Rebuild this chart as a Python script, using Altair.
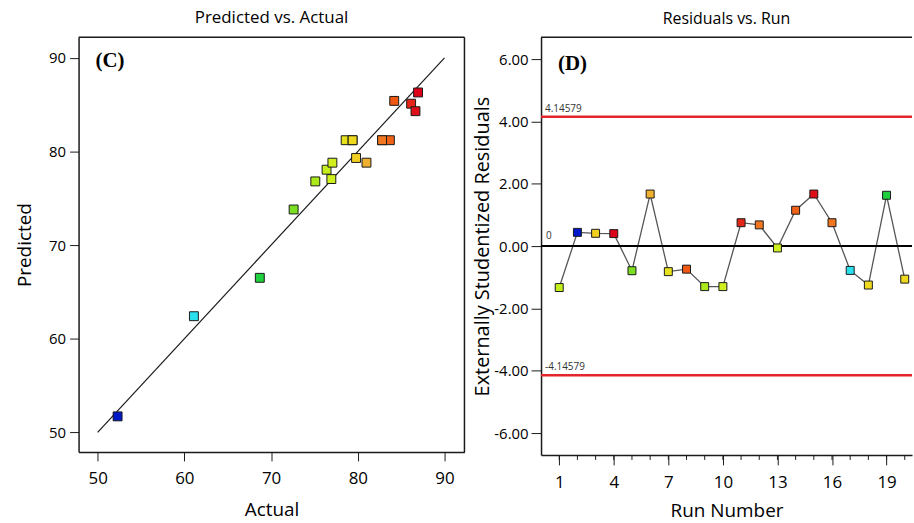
import altair as alt
import pandas as pd

# Design runs: observed response, model prediction, externally studentized residual
runs = list(range(1, 21))
actual = [76.4, 52.3, 79.8, 86.95, 72.6, 81.0, 78.6, 84.2, 75.1, 77.07,
          86.15, 82.8, 76.95, 83.7, 86.65, 82.8, 61.1, 79.4, 68.7, 79.4]
predicted = [78.05, 51.7, 79.3, 86.3, 73.8, 78.8, 81.2, 85.4, 76.8, 78.8,
             85.1, 81.2, 77.05, 81.2, 84.3, 81.2, 62.4, 81.2, 66.5, 81.2]
residuals = [-1.33, 0.44, 0.41, 0.40, -0.79, 1.67, -0.82, -0.74, -1.30, -1.30,
             0.75, 0.68, -0.06, 1.15, 1.67, 0.75, -0.78, -1.25, 1.63, -1.06]

limit_values = [4.14579, -4.14579]
limit_labels = ["4.14579", "-4.14579"]
x_ticks_c = [50, 60, 70, 80, 90]
y_ticks_d = [-6, -4, -2, 0, 2, 4, 6]
x_ticks_d = [1, 4, 7, 10, 13, 16, 19]

# response-value colour ramp (low = blue, high = red)
ramp_domain = [52, 61, 69, 73, 77, 79.5, 81, 83, 84.5, 86.5]
ramp_colors = ["#0000c0", "#30e0f0", "#30d030", "#80e020", "#d0f020",
               "#f0d820", "#f0b030", "#f07020", "#f05010", "#e01818"]

df = pd.DataFrame({"Run": runs, "Actual": actual,
                   "Predicted": predicted, "Residual": residuals})
diag = pd.DataFrame({"Actual": [50, 90], "Predicted": [50, 90]})
limits = pd.DataFrame({"y": limit_values, "label": limit_labels})
zero = pd.DataFrame({"y": [0], "label": ["0"]})

FONT = "Open Sans"
INK = "#1a1a1a"
W1, H1 = 388, 417
W2, H2 = 373, 420

color = alt.Color("Actual:Q", legend=None,
                  scale=alt.Scale(domain=ramp_domain, range=ramp_colors))

# ---------------- (C) Predicted vs. Actual ----------------
xs = alt.Scale(domain=[47.8, 92.3], nice=False, zero=False)
ys = alt.Scale(domain=[47.9, 92.2], nice=False, zero=False)
x_c = alt.X("Actual:Q", scale=xs, title="Actual",
            axis=alt.Axis(values=x_ticks_c, grid=False, tickSize=9,
                          labelFontSize=17, labelPadding=10,
                          titleFontSize=19, titlePadding=14,
                          domainColor=INK, domainWidth=1.5, tickColor=INK))
y_c = alt.Y("Predicted:Q", scale=ys, title="Predicted",
            axis=alt.Axis(values=x_ticks_c, grid=False, tickSize=9,
                          labelFontSize=15, labelPadding=4,
                          titleFontSize=19, titlePadding=14,
                          domainColor=INK, domainWidth=1.5, tickColor=INK))

fit = alt.Chart(diag).mark_line(color=INK, strokeWidth=1.2).encode(x=x_c, y=y_c)
pts_c = alt.Chart(df).mark_square(size=80, opacity=1, stroke=INK,
                                  strokeWidth=1).encode(
    x="Actual:Q", y="Predicted:Q", color=color)
frame_top_c = alt.Chart(zero).mark_rule(color=INK, strokeWidth=1.5).encode(
    x=alt.value(0), x2=alt.value(W1), y=alt.value(0))
frame_right_c = alt.Chart(zero).mark_rule(color=INK, strokeWidth=1.5).encode(
    x=alt.value(W1), y=alt.value(0), y2=alt.value(H1))
tag_c = alt.Chart(pd.DataFrame({"t": ["(C)"]})).mark_text(
    font="Liberation Serif", fontWeight="bold", fontSize=21, align="left",
    baseline="middle", color="black").encode(
    text="t:N", x=alt.value(17), y=alt.value(24))

panel_c = alt.layer(fit, pts_c, frame_top_c, frame_right_c, tag_c).properties(
    width=W1, height=H1,
    title=alt.TitleParams("Predicted vs. Actual", fontSize=17))

# ---------------- (D) Residuals vs. Run ----------------
rx = alt.Scale(domain=[0, 20.4], nice=False, zero=False)
ry = alt.Scale(domain=[-6.7, 6.7], nice=False, zero=False)
x_d = alt.X("Run:Q", scale=rx, title="Run Number",
            axis=alt.Axis(values=x_ticks_d, grid=False, tickSize=10,
                          labelFontSize=17, labelPadding=10,
                          titleFontSize=19, titlePadding=11,
                          domainColor=INK, domainWidth=1.5, tickColor=INK))
y_d = alt.Y("Residual:Q", scale=ry, title="Externally Studentized Residuals",
            axis=alt.Axis(values=y_ticks_d, grid=False, tickSize=10,
                          labelFontSize=15, labelPadding=3,
                          labelExpr="(datum.value < 0 ? '-' : '') + format(abs(datum.value), '.2f')",
                          titleFontSize=20, titlePadding=1,
                          domainColor=INK, domainWidth=1.5, tickColor=INK))

limit_rules = alt.Chart(limits).mark_rule(color="#e3262b", strokeWidth=2.5).encode(
    y=alt.Y("y:Q", scale=ry))
limit_text = alt.Chart(limits).mark_text(
    font=FONT, fontSize=10, align="left", baseline="bottom", dx=4, dy=-3,
    color="#333").encode(x=alt.value(0), y="y:Q", text="label:N")
zero_rule = alt.Chart(zero).mark_rule(color="black", strokeWidth=2).encode(
    y="y:Q")
zero_text = alt.Chart(zero).mark_text(
    font=FONT, fontSize=10, align="left", baseline="bottom", dx=5, dy=-5,
    color="#333").encode(x=alt.value(0), y="y:Q", text="label:N")
minor_ticks = alt.Chart(df).mark_rule(color=INK, strokeWidth=1).encode(
    x="Run:Q", y=alt.value(H2), y2=alt.value(H2 + 5))
res_line = alt.Chart(df).mark_line(color="#555555", strokeWidth=1.3).encode(
    x=x_d, y=y_d)
pts_d = alt.Chart(df).mark_square(size=64, opacity=1, stroke=INK,
                                  strokeWidth=1).encode(
    x="Run:Q", y="Residual:Q", color=color)
frame_top_d = alt.Chart(zero).mark_rule(color=INK, strokeWidth=1.5).encode(
    x=alt.value(0), x2=alt.value(W2), y=alt.value(0))
tag_d = alt.Chart(pd.DataFrame({"t": ["(D)"]})).mark_text(
    font="Liberation Serif", fontWeight="bold", fontSize=21, align="left",
    baseline="middle", color="black").encode(
    text="t:N", x=alt.value(17), y=alt.value(27))

panel_d = alt.layer(res_line, limit_rules, limit_text, zero_rule, zero_text,
                    minor_ticks, pts_d, frame_top_d, tag_d).properties(
    width=W2, height=H2,
    title=alt.TitleParams("Residuals vs. Run", fontSize=16))

chart = alt.hconcat(panel_c, panel_d, spacing=6).properties(
    padding={"left": 15, "top": 6, "right": 0, "bottom": 0},
    background="white",
).configure_view(stroke="transparent").configure_axis(
    labelFont=FONT, titleFont=FONT, labelColor="black", titleColor="black",
    titleFontWeight="normal",
).configure_title(
    font=FONT, fontWeight="normal", color="black", offset=10,
)

chart.save("out.html", embed_options={"renderer": "svg", "actions": False})
